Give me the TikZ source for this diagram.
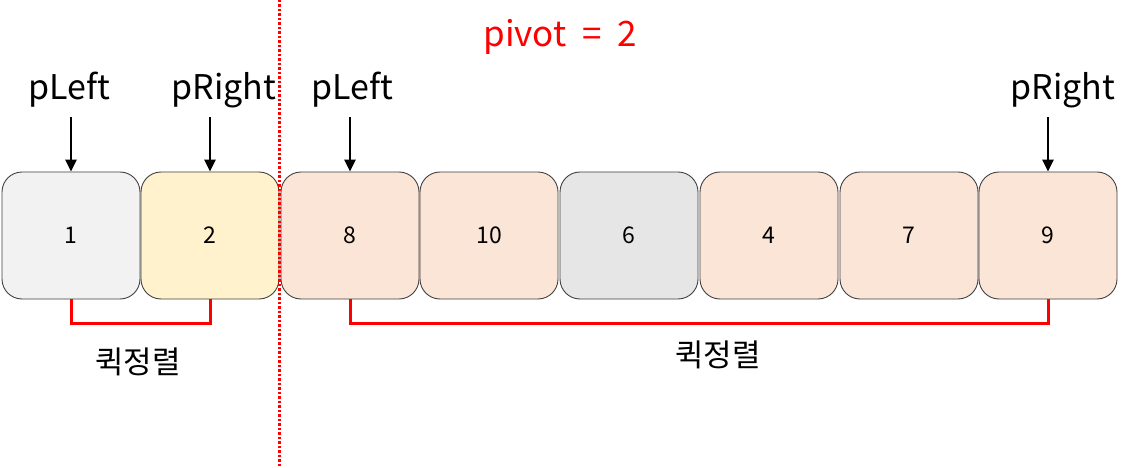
\documentclass[tikz,border=0pt]{standalone}
\usepackage{fontspec}
\setmainfont{Noto Sans CJK KR}
\usetikzlibrary{arrows.meta}

\definecolor{cellgray}{HTML}{F2F2F2}
\definecolor{cellyellow}{HTML}{FFF2CC}
\definecolor{cellpeach}{HTML}{FBE5D6}
\definecolor{cellpivot}{HTML}{E7E6E6}

\begin{document}
\begin{tikzpicture}[x=1pt,y=-1pt,
  cell/.style={draw=black!75,line width=0.9pt,rounded corners=20pt,
    minimum width=138pt,minimum height=127pt,font=\fontsize{23}{27}\selectfont},
  ptr/.style={font=\fontsize{34}{40}\selectfont},
  ptrarrow/.style={-{Triangle[length=12pt,width=11pt]},line width=2.5pt},
  part/.style={red,line width=3pt},
  sortlbl/.style={font=\fontsize{31}{37}\selectfont}]
\useasboundingbox (0,0) rectangle (1141,468);

% Array cells
\foreach \i/\x/\v/\c in {1/71/1/cellgray, 2/210/2/cellyellow, 3/350/8/cellpeach,
    4/489/10/cellpeach, 5/629/6/cellpivot, 6/769/4/cellpeach,
    7/909/7/cellpeach, 8/1048/9/cellpeach} {
    \node[cell,fill=\c] (b\i) at (\x,235.5) {\v};
}

% Pivot divider
\coordinate (divtop) at (279,0);
\coordinate (divbot) at (279,468);
\draw[red,line width=3pt,dash pattern=on 2.5pt off 2pt] (divtop) -- (divbot);
\node[red,font=\fontsize{35}{42}\selectfont] (pivot) at (560,37) {pivot\ \ =\ \ 2};

% Pointers
\node[ptr] (pl1) at (69,90) {pLeft};
\node[ptr] (pr1) at (224,90) {pRight};
\node[ptr] (pl2) at (352,90) {pLeft};
\node[ptr] (pr2) at (1063,90) {pRight};
\draw[ptrarrow] (b1.north |- 0,117) -- (b1.north);
\draw[ptrarrow] (b2.north |- 0,117) -- (b2.north);
\draw[ptrarrow] (b3.north |- 0,117) -- (b3.north);
\draw[ptrarrow] (b8.north |- 0,117) -- (b8.north);

% Partitions
\draw[part] (b1.south) -- ++(0,24) -| (b2.south);
\draw[part] (b3.south) -- ++(0,24) -| (b8.south);
\node[sortlbl] (qs1) at (138,362) {퀵정렬};
\node[sortlbl] (qs2) at (718,355) {퀵정렬};
\end{tikzpicture}
\end{document}
